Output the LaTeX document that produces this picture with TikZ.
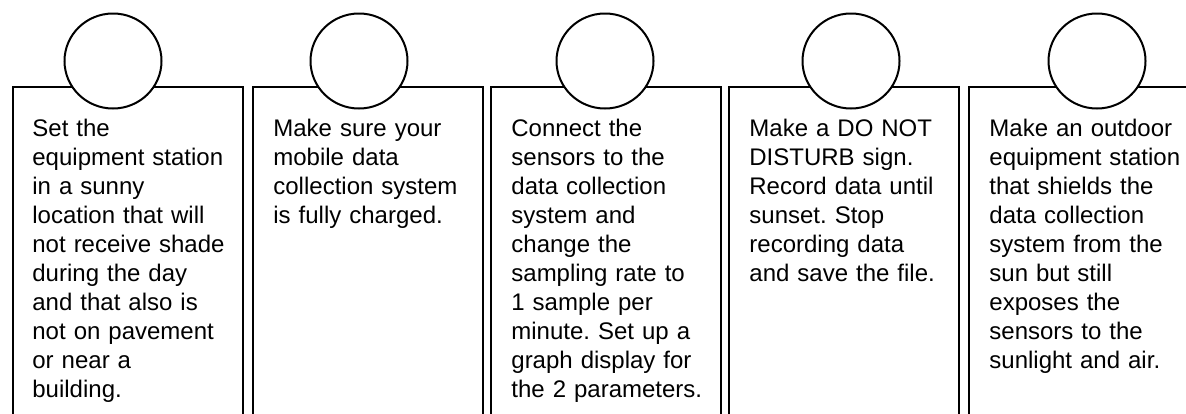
\documentclass[tikz,border=0pt]{standalone}
\usepackage{fontspec}
\setmainfont{Liberation Sans}
\usetikzlibrary{shapes.geometric}
\frenchspacing
\begin{document}
\begin{tikzpicture}[x=0.5pt,y=-0.5pt,
  stepbox/.style={draw, line width=1pt, anchor=north west, inner sep=0pt,
    minimum width=115pt, minimum height=190pt},
  badge/.style={ellipse, draw, fill=white, line width=1pt, inner sep=0pt,
    minimum width=48.5pt, minimum height=47.5pt},
  steptext/.style={anchor=base west, inner sep=0pt, text width=110pt, align=left,
    font=\fontsize{12}{14.55}\selectfont\frenchspacing}]
\useasboundingbox (0,0) rectangle (1186,413);
\clip (0,0) rectangle (1186,413);
\fill[white] (0,0) rectangle (1186,413);
% boxes
\node[stepbox] (b1) at (12,86) {};
\node[stepbox] (b2) at (252,86) {};
\node[stepbox] (b3) at (490,86) {};
\node[stepbox] (b4) at (728,86) {};
\node[stepbox] (b5) at (968,86) {};
% circles
\node[badge] (c1) at (113,61) {};
\node[badge] (c2) at (359,61) {};
\node[badge] (c3) at (605,61) {};
\node[badge] (c4) at (851,61) {};
\node[badge] (c5) at (1097,61) {};
% texts
\node[steptext] (t1) at (32,136) {Set the\\ equipment station\\ in a sunny\\ location that will\\ not receive shade\\ during the day\\ and that also is\\ not on pavement\\ or near a\\ building.};
\node[steptext] (t2) at (273,136) {Make sure your\\ mobile data\\ collection system\\ is fully charged.};
\node[steptext] (t3) at (511,136) {Connect the\\ sensors to the\\ data collection\\ system and\\ change the\\ sampling rate to\\ 1 sample per\\ minute. Set up a\\ graph display for\\ the 2 parameters.};
\node[steptext] (t4) at (749,136) {Make a DO NOT\\ DISTURB sign.\\ Record data until\\ sunset. Stop\\ recording data\\ and save the file.};
\node[steptext] (t5) at (989,136) {Make an outdoor\\ equipment station\\ that shields the\\ data collection\\ system from the\\ sun but still\\ exposes the\\ sensors to the\\ sunlight and air.};
\end{tikzpicture}
\end{document}
